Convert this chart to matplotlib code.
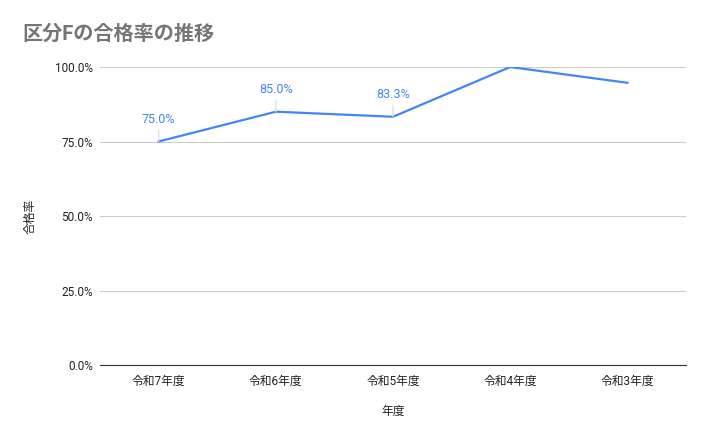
import matplotlib
matplotlib.use('Agg')
import matplotlib.pyplot as plt
from matplotlib.ticker import FuncFormatter

plt.rcParams['font.family'] = ['Roboto', 'Noto Sans CJK JP', 'DejaVu Sans']

years = ['令和7年度', '令和6年度', '令和5年度', '令和4年度', '令和3年度']
rates = [75.0, 85.0, 83.3, 100.0, 94.7]
shown_labels = ['75.0%', '85.0%', '83.3%', None, None]

fig = plt.figure(figsize=(7.08, 4.4), dpi=100)
ax = fig.add_axes([100 / 708, 75 / 440, 586 / 708, 298 / 440])

x = list(range(len(years)))
ax.plot(x, rates, color='#4285F4', linewidth=1.6, zorder=3)

# data labels with small leader lines
for xi, yi, lab in zip(x, rates, shown_labels):
    if lab is None:
        continue
    ax.annotate(lab, xy=(xi, yi), xytext=(0, 16), textcoords='offset points',
                ha='center', va='center', fontsize=9, color='#4285F4',
                arrowprops=dict(arrowstyle='-', color='#dcdcdc', lw=0.9,
                                shrinkA=1, shrinkB=0))

ax.set_xlim(-0.5, len(years) - 0.5)
ax.set_ylim(0, 100)
ax.set_yticks([0, 25, 50, 75, 100])
ax.yaxis.set_major_formatter(FuncFormatter(lambda v, p: f'{v:.1f}%'))
ax.set_xticks(x)
ax.set_xticklabels(years)
ax.grid(axis='y', color='#cccccc', linewidth=0.8)
ax.set_axisbelow(True)
for s in ['top', 'right', 'left']:
    ax.spines[s].set_visible(False)
ax.spines['bottom'].set_color('#333333')
ax.tick_params(axis='both', length=0, labelsize=8.5, colors='#222222')
ax.tick_params(axis='x', pad=7)
ax.tick_params(axis='y', pad=5)

ax.set_xlabel('年度', fontsize=8.5, color='#222222', labelpad=12)
ax.yaxis.set_label_coords(-(100 - 37) / 586, 0.5)
ax.set_ylabel('合格率', fontsize=8.5, color='#222222')

fig.text(22 / 708, 1 - 34 / 440, '区分Fの合格率の推移', fontsize=14.5, fontweight='bold',
         color='#757575', ha='left', va='center')

fig.savefig('out.png', dpi=100)
